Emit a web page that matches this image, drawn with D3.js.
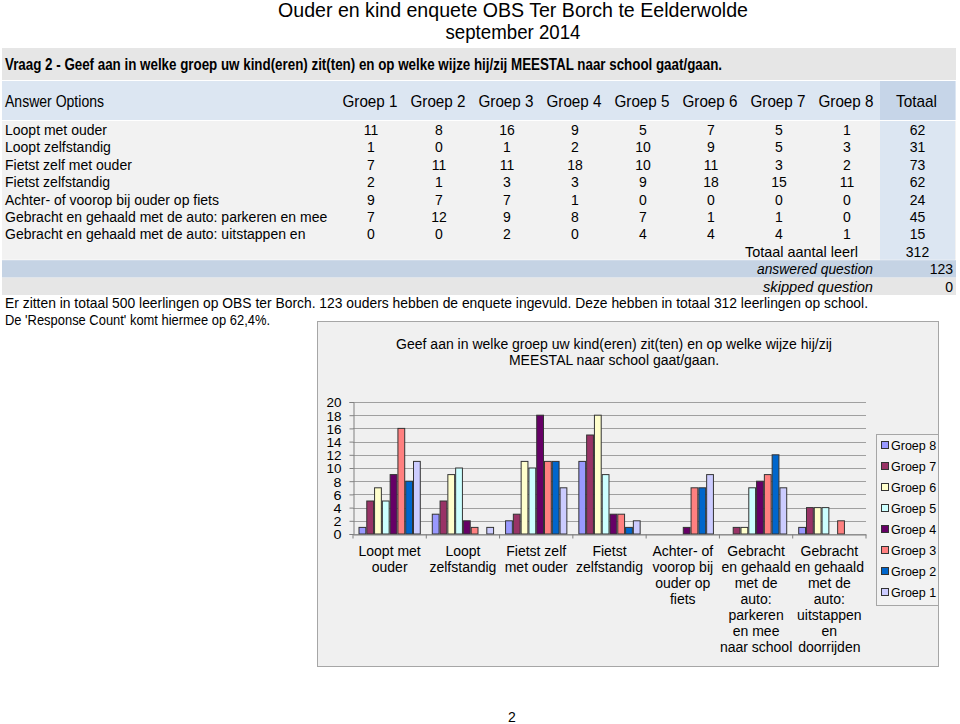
<!DOCTYPE html>
<html>
<head>
<meta charset="utf-8">
<script src="https://cdn.jsdelivr.net/npm/d3@7"></script>
<style>
	body { margin: 0; background: #fff; }
	svg { display: block; }
	.sans { font-family: "Liberation Sans", Arial, sans-serif; }
</style>
</head>
<body>
<div id="page"></div>
<script>
// table rows (as in the survey table)
const answerOptions = [
	'Loopt met ouder',
	'Loopt zelfstandig',
	'Fietst zelf met ouder',
	'Fietst zelfstandig',
	'Achter- of voorop bij ouder op fiets',
	'Gebracht en gehaald met de auto: parkeren en mee',
	'Gebracht en gehaald met de auto: uitstappen en'
];
// chart categories (wrapped labels under the x axis)
const categories = [
	'Loopt met\nouder',
	'Loopt\nzelfstandig',
	'Fietst zelf\nmet ouder',
	'Fietst\nzelfstandig',
	'Achter- of\nvoorop bij\nouder op\nfiets',
	'Gebracht\nen gehaald\nmet de\nauto:\nparkeren\nen mee\nnaar school',
	'Gebracht\nen gehaald\nmet de\nauto:\nuitstappen\nen\ndoorrijden'
];
const groepen = ['Groep 1', 'Groep 2', 'Groep 3', 'Groep 4', 'Groep 5', 'Groep 6', 'Groep 7', 'Groep 8'];
const groep1 = [11, 1, 7, 2, 9, 7, 0];
const groep2 = [8, 0, 11, 1, 7, 12, 0];
const groep3 = [16, 1, 11, 3, 7, 9, 2];
const groep4 = [9, 2, 18, 3, 1, 8, 0];
const groep5 = [5, 10, 10, 9, 0, 7, 4];
const groep6 = [7, 9, 11, 18, 0, 1, 4];
const groep7 = [5, 5, 3, 15, 0, 1, 4];
const groep8 = [1, 3, 2, 11, 0, 0, 1];
const totaal = [62, 31, 73, 62, 24, 45, 15];
const totaalLeerl = 312;
const answered = 123;
const skipped = 0;
const yTicks = [0, 2, 4, 6, 8, 10, 12, 14, 16, 18, 20];

const series = [groep1, groep2, groep3, groep4, groep5, groep6, groep7, groep8];
const colors = {
	'Groep 1': '#ccccff',
	'Groep 2': '#0066cc',
	'Groep 3': '#ff8080',
	'Groep 4': '#660066',
	'Groep 5': '#ccffff',
	'Groep 6': '#ffffcc',
	'Groep 7': '#993366',
	'Groep 8': '#9999ff'
};
// the chart draws Groep 8 first
const chartOrder = groepen.slice().reverse();

// no narrow font installed: squeeze the text to the width seen in the original
function squeeze(sel, w) {
	sel.attr('textLength', w).attr('lengthAdjust', 'spacingAndGlyphs');
}

let svg = d3.select('#page')
	.append('svg')
		.attr('width', 960)
		.attr('height', 724)
		.attr('class', 'sans');

let bg = svg.append('g');
let fg = svg.append('g');

// ---- page header ----
fg.append('text')
	.attr('x', 513).attr('y', 17)
	.attr('text-anchor', 'middle')
	.style('font-size', '20px')
	.text('Ouder en kind enquete OBS Ter Borch te Eelderwolde')
	.call(squeeze, 470);
fg.append('text')
	.attr('x', 513).attr('y', 39)
	.attr('text-anchor', 'middle')
	.style('font-size', '20px')
	.text('september 2014')
	.call(squeeze, 135);

// ---- table ----
let tableLeft = 2, tableRight = 956;
let totCol = [880, 955];
let rowH = 17.4;
let rowTop = 121;

bg.append('rect')
	.attr('x', tableLeft).attr('y', 48)
	.attr('width', tableRight - tableLeft).attr('height', 32)
	.attr('fill', '#e6e6e6');
fg.append('text')
	.attr('x', 5).attr('y', 70)
	.style('font-size', '16px').style('font-weight', 'bold')
	.text('Vraag 2 - Geef aan in welke groep uw kind(eren) zit(ten) en op welke wijze hij/zij MEESTAL naar school gaat/gaan.')
	.call(squeeze, 717);

bg.append('rect')
	.attr('x', tableLeft).attr('y', 81)
	.attr('width', tableRight - tableLeft).attr('height', 39)
	.attr('fill', '#dce6f2');
bg.append('rect')
	.attr('x', totCol[0]).attr('y', 81)
	.attr('width', totCol[1] - totCol[0]).attr('height', 39)
	.attr('fill', '#c6d5e8');

let col = d3.scaleBand()
	.domain(groepen)
	.range([336, 880]);

let header = fg.append('g').style('font-size', '17px');
header.append('text')
	.attr('x', 5).attr('y', 107)
	.text('Answer Options')
	.call(squeeze, 99);
header.selectAll('.gh')
	.data(groepen)
	.enter().append('text')
		.attr('class', 'gh')
		.attr('x', (d) => col(d) + col.bandwidth() / 2)
		.attr('y', 107)
		.attr('text-anchor', 'middle')
		.text((d) => d)
		.call(squeeze, 55);
header.append('text')
	.attr('x', (totCol[0] + totCol[1]) / 2 - 1).attr('y', 107)
	.attr('text-anchor', 'middle')
	.text('Totaal')
	.call(squeeze, 41);

bg.append('rect')
	.attr('x', tableLeft).attr('y', rowTop)
	.attr('width', tableRight - tableLeft).attr('height', rowH * 8 - 0.5)
	.attr('fill', '#f2f2f2');
bg.append('rect')
	.attr('x', totCol[0]).attr('y', rowTop)
	.attr('width', totCol[1] - totCol[0]).attr('height', rowH * 8 - 0.5)
	.attr('fill', '#dce6f2');

let body = fg.append('g').style('font-size', '14px');
let rows = body.selectAll('.row')
	.data(answerOptions)
	.enter().append('g')
		.attr('class', 'row')
		.attr('transform', (d, i) => 'translate(0,' + (rowTop + 14 + i * rowH) + ')');
rows.append('text')
	.attr('x', 5)
	.text((d) => d);
groepen.forEach((g, gi) => {
	rows.append('text')
		.attr('x', col(g) + col.bandwidth() / 2 + 1)
		.attr('text-anchor', 'middle')
		.text((d, i) => series[gi][i]);
});
rows.append('text')
	.attr('x', (totCol[0] + totCol[1]) / 2)
	.attr('text-anchor', 'middle')
	.text((d, i) => totaal[i]);

let sumY = rowTop + 7 * rowH;
body.append('text')
	.attr('x', 858).attr('y', sumY + 14)
	.attr('text-anchor', 'end')
	.style('font-size', '15px')
	.text('Totaal aantal leerl')
	.call(squeeze, 113);
body.append('text')
	.attr('x', (totCol[0] + totCol[1]) / 2).attr('y', sumY + 14)
	.attr('text-anchor', 'middle')
	.text(totaalLeerl);

bg.append('rect')
	.attr('x', tableLeft).attr('y', sumY + rowH)
	.attr('width', tableRight - tableLeft).attr('height', rowH)
	.attr('fill', '#c5d3e4');
bg.append('rect')
	.attr('x', tableLeft).attr('y', sumY + 2 * rowH)
	.attr('width', tableRight - tableLeft).attr('height', rowH)
	.attr('fill', '#e6e6e6');
body.append('text')
	.attr('x', 873).attr('y', sumY + rowH + 14)
	.attr('text-anchor', 'end')
	.style('font-style', 'italic')
	.style('font-size', '15px')
	.text('answered question')
	.call(squeeze, 116);
body.append('text')
	.attr('x', 953).attr('y', sumY + rowH + 14)
	.attr('text-anchor', 'end')
	.text(answered);
body.append('text')
	.attr('x', 873).attr('y', sumY + 2 * rowH + 14)
	.attr('text-anchor', 'end')
	.style('font-style', 'italic')
	.style('font-size', '15px')
	.text('skipped question')
	.call(squeeze, 110);
body.append('text')
	.attr('x', 953).attr('y', sumY + 2 * rowH + 14)
	.attr('text-anchor', 'end')
	.text(skipped);

body.append('text')
	.attr('x', 5).attr('y', 308)
	.style('font-size', '15px')
	.text("Er zitten in totaal 500 leerlingen op OBS ter Borch. 123 ouders hebben de enquete ingevuld. Deze hebben in totaal 312 leerlingen op school.")
	.call(squeeze, 863);
body.append('text')
	.attr('x', 5).attr('y', 325)
	.style('font-size', '15px')
	.text("De 'Response Count' komt hiermee op 62,4%.")
	.call(squeeze, 265);

// ---- chart ----
let chart = fg.append('g');
chart.append('rect')
	.attr('x', 317.5).attr('y', 321.5)
	.attr('width', 621).attr('height', 345)
	.attr('fill', '#f0f0f0')
	.attr('stroke', '#a6a6a6');

chart.append('text')
	.attr('x', 614).attr('y', 349)
	.attr('text-anchor', 'middle')
	.style('font-size', '14px')
	.text('Geef aan in welke groep uw kind(eren) zit(ten) en op welke wijze hij/zij');
chart.append('text')
	.attr('x', 614).attr('y', 365)
	.attr('text-anchor', 'middle')
	.style('font-size', '14px')
	.text('MEESTAL naar school gaat/gaan.');

let plot = { left: 353, right: 866, top: 402, bottom: 534 };

let x0 = d3.scaleBand()
	.domain(categories)
	.range([plot.left, plot.right])
	.paddingInner(0.15)
	.paddingOuter(0.075);
let x1 = d3.scaleBand()
	.domain(chartOrder)
	.range([0, x0.bandwidth()]);
let y = d3.scaleLinear()
	.domain([0, 20])
	.range([plot.bottom, plot.top]);

// gridlines
chart.append('g')
	.selectAll('line')
	.data(yTicks)
	.enter().append('line')
		.attr('x1', plot.left).attr('x2', plot.right)
		.attr('y1', (d) => Math.round(y(d)) + 0.5)
		.attr('y2', (d) => Math.round(y(d)) + 0.5)
		.attr('stroke', '#a0a0a0');

let yAxis = d3.axisLeft(y)
	.tickValues(yTicks)
	.tickSize(4)
	.tickPadding(8);
let yg = chart.append('g')
	.attr('transform', 'translate(' + (plot.left + 0.5) + ',0)')
	.call(yAxis);
yg.attr('font-size', null).attr('font-family', null);
yg.select('.domain').attr('stroke', '#808080');
yg.selectAll('.tick line').attr('stroke', '#808080');
yg.selectAll('.tick text')
	.style('font-size', '13.5px')
	.attr('fill', '#000')
	.attr('dy', '0.36em')
	.call(squeeze, 15);
yg.selectAll('.tick')
	.filter((d) => d < 10)
	.select('text')
	.call(squeeze, 8);

// bars
let groups = chart.append('g')
	.selectAll('g')
	.data(categories)
	.enter().append('g')
		.attr('transform', (d) => 'translate(' + x0(d) + ',0)');
groups.selectAll('rect')
	.data((d, ci) => chartOrder.map((g) => ({ g: g, v: series[groepen.indexOf(g)][ci] })))
	.enter().append('rect')
		.filter((d) => d.v > 0)
		.attr('x', (d) => x1(d.g) + 0.5)
		.attr('y', (d) => y(d.v))
		.attr('width', x1.bandwidth() - 1)
		.attr('height', (d) => y(0) - y(d.v))
		.attr('fill', (d) => colors[d.g])
		.attr('stroke', '#333')
		.attr('stroke-width', 1);

// x axis
let xAxis = d3.axisBottom(x0)
	.tickSize(0)
	.tickFormat('');
let xg = chart.append('g')
	.attr('transform', 'translate(0,' + (Math.round(plot.bottom) + 0.5) + ')')
	.call(xAxis);
xg.select('.domain').attr('stroke', '#808080');
// ticks between categories
xg.selectAll('.sep')
	.data(d3.range(categories.length + 1))
	.enter().append('line')
		.attr('x1', (i) => plot.left + i * x0.step())
		.attr('x2', (i) => plot.left + i * x0.step())
		.attr('y1', 0).attr('y2', 4)
		.attr('stroke', '#808080');

let labels = chart.append('g')
	.selectAll('text')
	.data(categories)
	.enter().append('text')
		.attr('x', (d) => x0(d) + x0.bandwidth() / 2)
		.attr('y', 556)
		.attr('text-anchor', 'middle')
		.style('font-size', '14px');
labels.selectAll('tspan')
	.data((d) => d.split('\n'))
	.enter().append('tspan')
		.attr('x', function() { return this.parentNode.getAttribute('x'); })
		.attr('dy', (d, i) => i === 0 ? 0 : 16)
		.text((d) => d);

// legend
let legend = chart.append('g');
legend.append('rect')
	.attr('x', 876.5).attr('y', 434.5)
	.attr('width', 62).attr('height', 171)
	.attr('fill', '#f2f2f2')
	.attr('stroke', '#a6a6a6');
let items = legend.selectAll('.item')
	.data(chartOrder)
	.enter().append('g')
		.attr('class', 'item')
		.attr('transform', (d, i) => 'translate(881,' + (445 + i * 21) + ')');
items.append('rect')
	.attr('x', 0.5).attr('y', -3.5)
	.attr('width', 7).attr('height', 7)
	.attr('fill', (d) => colors[d])
	.attr('stroke', '#333');
items.append('text')
	.attr('x', 10).attr('y', 4.5)
	.style('font-size', '12.5px')
	.text((d) => d);

// page number
fg.append('text')
	.attr('x', 512).attr('y', 722)
	.attr('text-anchor', 'middle')
	.style('font-size', '14px')
	.text('2');
</script>
</body>
</html>
